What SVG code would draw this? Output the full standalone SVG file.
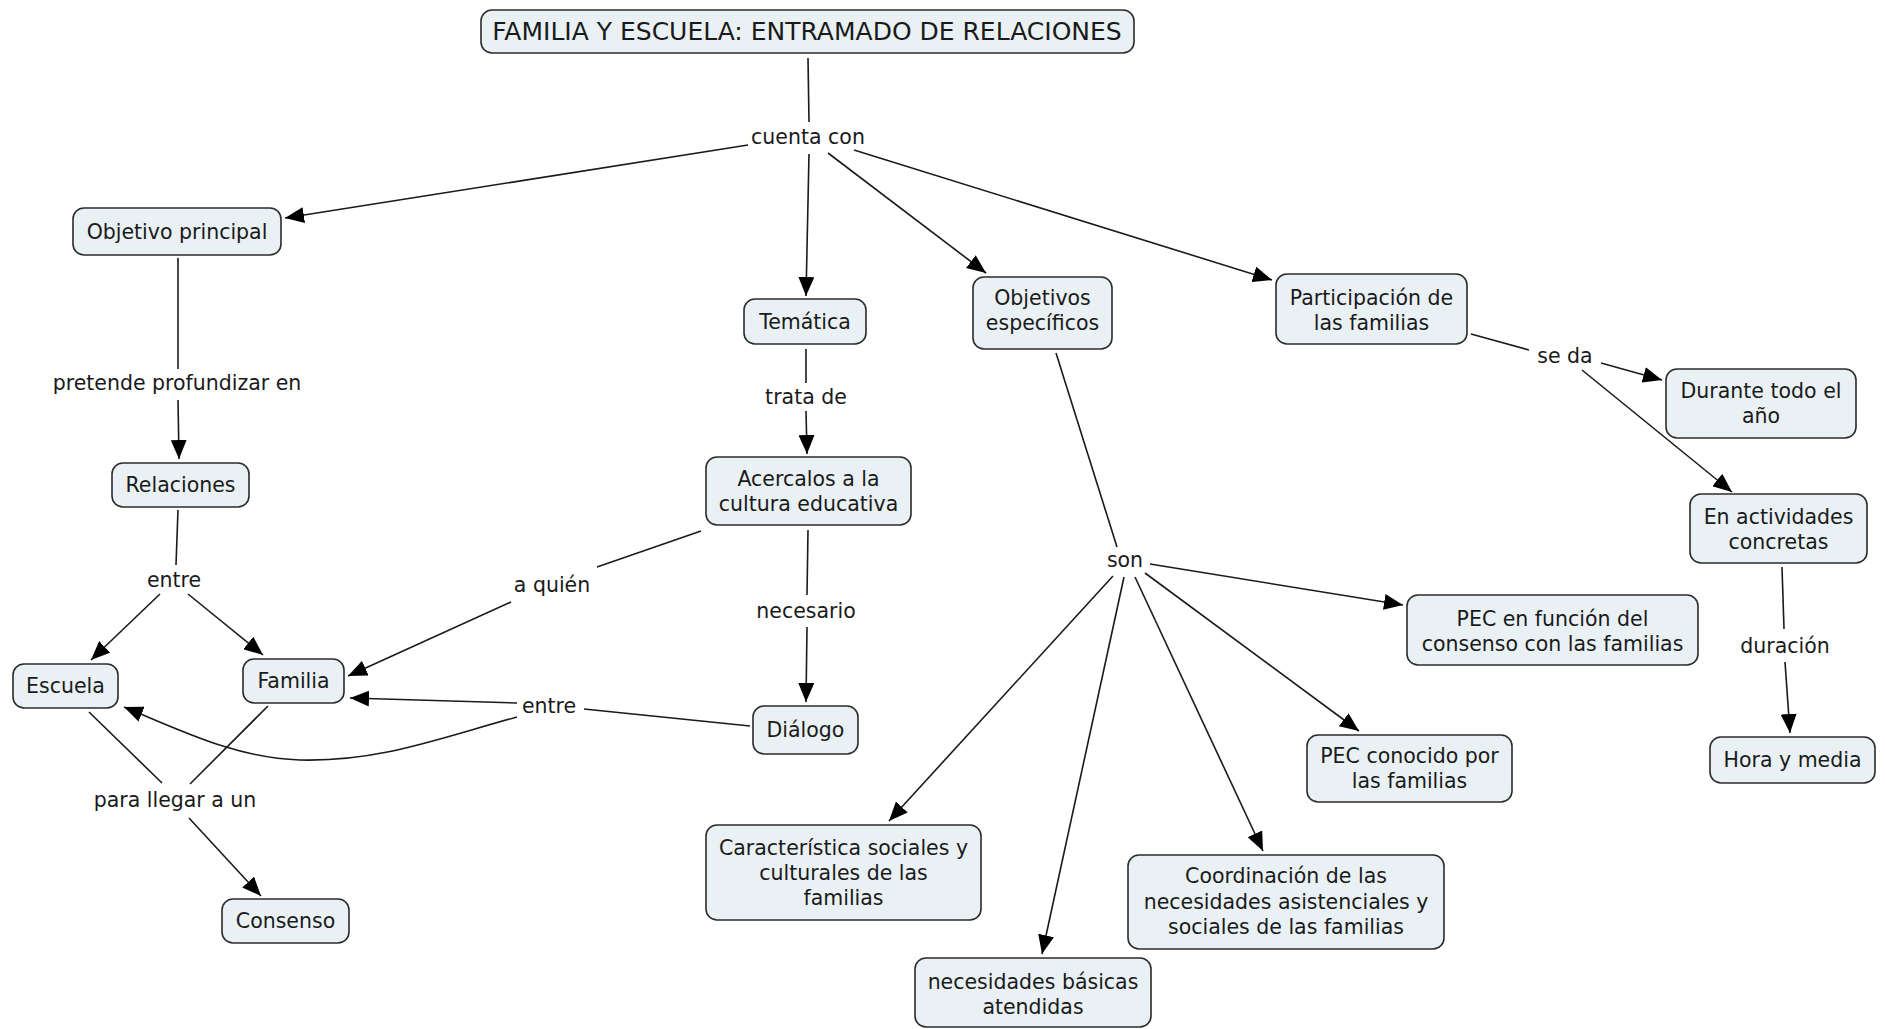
<svg xmlns="http://www.w3.org/2000/svg" width="1885" height="1029" viewBox="0 0 1885 1029">
  <style>
    .node rect { fill: #e9f1f4; stroke: #2b2b2b; stroke-width: 1.6; }
    text { font-family: "DejaVu Sans", Verdana, sans-serif; font-size: 20.5px; fill: #1a1a1a; text-anchor: middle; }
    .title { font-size: 25px; }
    .link { fill: none; stroke: #1a1a1a; stroke-width: 1.6; }
    .arrow { marker-end: url(#head); }
  </style>
  <defs>
    <marker id="head" markerUnits="userSpaceOnUse" markerWidth="20" markerHeight="16" refX="19" refY="8" orient="auto">
      <path d="M0,0 L19,8 L0,16 z" fill="#000"/>
    </marker>
  </defs>
  <rect width="1885" height="1029" fill="#fff"/>

  <!-- connectors and linking phrases -->
  <g id="connectors">
    <line class="link" x1="808" y1="58" x2="809" y2="122"/>
    <line class="link arrow" x1="748" y1="145" x2="285" y2="218"/>
    <line class="link arrow" x1="809" y1="154" x2="806" y2="296"/>
    <line class="link arrow" x1="828" y1="153" x2="986" y2="273"/>
    <line class="link arrow" x1="854" y1="150" x2="1272" y2="280"/>
    <text x="808" y="144">cuenta con</text>

    <line class="link" x1="178" y1="258" x2="178" y2="369"/>
    <line class="link arrow" x1="178" y1="400" x2="179" y2="459"/>
    <text x="177" y="390">pretende profundizar en</text>

    <line class="link" x1="178" y1="510" x2="176" y2="565"/>
    <line class="link arrow" x1="160" y1="594" x2="91" y2="660"/>
    <line class="link arrow" x1="188" y1="594" x2="263" y2="655"/>
    <text x="174" y="587">entre</text>

    <line class="link" x1="806" y1="349" x2="806" y2="383"/>
    <line class="link arrow" x1="806" y1="411" x2="807" y2="454"/>
    <text x="806" y="404">trata de</text>

    <line class="link" x1="701" y1="531" x2="597" y2="567"/>
    <line class="link arrow" x1="511" y1="602" x2="348" y2="676"/>
    <text x="552" y="592">a quién</text>

    <line class="link" x1="808" y1="530" x2="807" y2="595"/>
    <line class="link arrow" x1="807" y1="627" x2="806" y2="702"/>
    <text x="806" y="618">necesario</text>

    <line class="link" x1="750" y1="726" x2="584" y2="709"/>
    <line class="link arrow" x1="517" y1="703" x2="350" y2="698"/>
    <path class="link arrow" d="M517,717 C440,738 380,762 300,760 C235,758 180,730 124,707"/>
    <text x="549" y="713">entre</text>

    <line class="link" x1="89" y1="712" x2="162" y2="783"/>
    <line class="link" x1="268" y1="706" x2="190" y2="784"/>
    <line class="link arrow" x1="189" y1="818" x2="261" y2="896"/>
    <text x="175" y="807">para llegar a un</text>

    <line class="link" x1="1056" y1="353" x2="1117" y2="547"/>
    <line class="link arrow" x1="1150" y1="564" x2="1403" y2="605"/>
    <line class="link arrow" x1="1145" y1="573" x2="1359" y2="731"/>
    <line class="link arrow" x1="1135" y1="577" x2="1263" y2="851"/>
    <line class="link arrow" x1="1124" y1="577" x2="1042" y2="954"/>
    <line class="link arrow" x1="1113" y1="576" x2="889" y2="821"/>
    <text x="1125" y="567">son</text>

    <line class="link" x1="1471" y1="334" x2="1529" y2="350"/>
    <line class="link arrow" x1="1601" y1="363" x2="1662" y2="380"/>
    <line class="link arrow" x1="1582" y1="370" x2="1732" y2="492"/>
    <text x="1565" y="363">se da</text>

    <line class="link" x1="1782" y1="567" x2="1784" y2="629"/>
    <line class="link arrow" x1="1785" y1="662" x2="1790" y2="733"/>
    <text x="1785" y="653">duración</text>
  </g>

  <!-- concepts -->
  <g id="n-title" class="node">
    <rect x="481" y="10" width="653" height="43" rx="11"/>
    <text class="title" x="807" y="40">FAMILIA Y ESCUELA: ENTRAMADO DE RELACIONES</text>
  </g>
  <g id="n-objetivo-principal" class="node">
    <rect x="73" y="208" width="208" height="47" rx="11"/>
    <text x="177" y="239">Objetivo principal</text>
  </g>
  <g id="n-tematica" class="node">
    <rect x="744" y="299" width="122" height="45" rx="11"/>
    <text x="805" y="329">Temática</text>
  </g>
  <g id="n-objetivos-especificos" class="node">
    <rect x="973" y="277" width="139" height="72" rx="11"/>
    <text x="1042.5" y="305">Objetivos</text>
    <text x="1042.5" y="330">específicos</text>
  </g>
  <g id="n-participacion" class="node">
    <rect x="1276" y="274" width="191" height="70" rx="11"/>
    <text x="1371.5" y="305">Participación de</text>
    <text x="1371.5" y="330">las familias</text>
  </g>
  <g id="n-durante" class="node">
    <rect x="1666" y="369" width="190" height="69" rx="11"/>
    <text x="1761" y="398">Durante todo el</text>
    <text x="1761" y="423">año</text>
  </g>
  <g id="n-actividades" class="node">
    <rect x="1690" y="494" width="177" height="69" rx="11"/>
    <text x="1778.5" y="524">En actividades</text>
    <text x="1778.5" y="549">concretas</text>
  </g>
  <g id="n-relaciones" class="node">
    <rect x="112" y="463" width="137" height="44" rx="11"/>
    <text x="180.5" y="492">Relaciones</text>
  </g>
  <g id="n-acercalos" class="node">
    <rect x="706" y="457" width="205" height="68" rx="11"/>
    <text x="808.5" y="486">Acercalos a la</text>
    <text x="808.5" y="511">cultura educativa</text>
  </g>
  <g id="n-escuela" class="node">
    <rect x="13" y="664" width="105" height="44" rx="11"/>
    <text x="65.5" y="693">Escuela</text>
  </g>
  <g id="n-familia" class="node">
    <rect x="243" y="659" width="101" height="44" rx="11"/>
    <text x="293.5" y="688">Familia</text>
  </g>
  <g id="n-dialogo" class="node">
    <rect x="753" y="706" width="105" height="48" rx="11"/>
    <text x="805.5" y="737">Diálogo</text>
  </g>
  <g id="n-pec-funcion" class="node">
    <rect x="1407" y="595" width="291" height="70" rx="11"/>
    <text x="1552.5" y="626">PEC en función del</text>
    <text x="1552.5" y="651">consenso con las familias</text>
  </g>
  <g id="n-pec-conocido" class="node">
    <rect x="1307" y="735" width="205" height="67" rx="11"/>
    <text x="1409.5" y="763">PEC conocido por</text>
    <text x="1409.5" y="788">las familias</text>
  </g>
  <g id="n-hora" class="node">
    <rect x="1710" y="737" width="165" height="46" rx="11"/>
    <text x="1792.5" y="767">Hora y media</text>
  </g>
  <g id="n-caracteristica" class="node">
    <rect x="706" y="825" width="275" height="95" rx="11"/>
    <text x="843.5" y="855">Característica sociales y</text>
    <text x="843.5" y="880">culturales de las</text>
    <text x="843.5" y="905">familias</text>
  </g>
  <g id="n-coordinacion" class="node">
    <rect x="1128" y="855" width="316" height="94" rx="11"/>
    <text x="1286" y="883">Coordinación de las</text>
    <text x="1286" y="909">necesidades asistenciales y</text>
    <text x="1286" y="934">sociales de las familias</text>
  </g>
  <g id="n-necesidades" class="node">
    <rect x="915" y="958" width="236" height="69" rx="11"/>
    <text x="1033" y="989">necesidades básicas</text>
    <text x="1033" y="1014">atendidas</text>
  </g>
  <g id="n-consenso" class="node">
    <rect x="222" y="899" width="127" height="44" rx="11"/>
    <text x="285.5" y="928">Consenso</text>
  </g>
</svg>
